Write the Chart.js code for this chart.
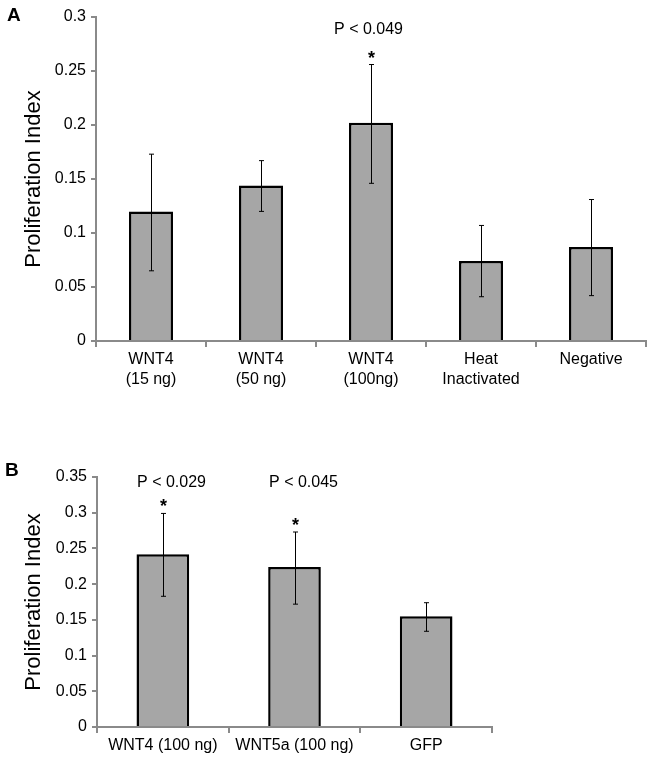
<!DOCTYPE html>
<html>
<head>
	<title>Proliferation Index</title>
	<style>
		body
		{
			margin: 0;
			background: #fff;
		}

		.panel
		{
			position: absolute;
			left: 0;
		}
	</style>
</head>
<body>
	<!-- panel A on top, panel B below -->
	<div class="panel" style="top: 0px;">
	<canvas id="chartA" width="651" height="390"></canvas>
	</div>

	<div class="panel" style="top: 460px;">
	<canvas id="chartB" width="651" height="297"></canvas>
	</div>

	<script src="https://cdn.jsdelivr.net/npm/chart.js@4.4.1/dist/chart.umd.min.js"></script>
	<script>

		// panel A data
		var labelsA = [["WNT4", "(15 ng)"], ["WNT4", "(50 ng)"], ["WNT4", "(100ng)"], ["Heat", "Inactivated"], ["Negative"]];
		var valuesA = [0.120, 0.144, 0.202, 0.074, 0.087];
		var errLowA = [0.065, 0.120, 0.146, 0.041, 0.042];
		var errHighA = [0.173, 0.167, 0.256, 0.107, 0.131];
		var pTextA = [null, null, "P < 0.049", null, null];
		var yTicksA = [0, 0.05, 0.1, 0.15, 0.2, 0.25, 0.3];

		// panel B data
		var labelsB = ["WNT4 (100 ng)", "WNT5a (100 ng)", "GFP"];
		var valuesB = [0.242, 0.224, 0.155];
		var errLowB = [0.183, 0.172, 0.134];
		var errHighB = [0.299, 0.273, 0.174];
		var pTextB = ["P < 0.029", "P < 0.045", null];
		var yTicksB = [0, 0.05, 0.1, 0.15, 0.2, 0.25, 0.3, 0.35];

		var FONT = "'Liberation Sans', Arial, sans-serif";
		var AXIS = "#8a8a8a";

		// draws error bars, asterisks, p values and the panel letter
		var extrasPlugin = {
			id: "extras",
			afterDatasetsDraw: function(chart, args, opts) {
				var ctx = chart.ctx;
				var y = chart.scales.y;
				var bars = chart.getDatasetMeta(0).data;
				ctx.save();
				ctx.strokeStyle = "#000";
				ctx.lineWidth = 1;
				for (var i = 0; i < bars.length; i++) {
					var x = Math.round(bars[i].x) + 0.5;
					var top = y.getPixelForValue(opts.high[i]);
					var bot = y.getPixelForValue(opts.low[i]);
					ctx.beginPath();
					ctx.moveTo(x, top);
					ctx.lineTo(x, bot);
					ctx.moveTo(x - 2.5, top);
					ctx.lineTo(x + 2.5, top);
					ctx.moveTo(x - 2.5, bot);
					ctx.lineTo(x + 2.5, bot);
					ctx.stroke();

					if (opts.p[i]) {
						ctx.fillStyle = "#000";
						ctx.textAlign = "center";
						ctx.font = "bold 18px " + FONT;
						ctx.textBaseline = "alphabetic";
						ctx.fillText("*", x, top - 1);
						ctx.font = "16px " + FONT;
						ctx.textBaseline = "middle";
						ctx.fillText(opts.p[i], x + opts.pShift, y.getPixelForValue(opts.pY));
					}
				}
				ctx.font = "bold 19px " + FONT;
				ctx.textAlign = "left";
				ctx.textBaseline = "middle";
				ctx.fillStyle = "#000";
				ctx.fillText(opts.letter, opts.letterX, opts.letterY);
				ctx.restore();
			}
		};

		function makeChart(id, labels, values, ticks, yMax, sizes, extras) {
			var ctx = document.getElementById(id).getContext("2d");
			return new Chart(ctx, {
				type: "bar",
				data: {
					labels: labels,
					datasets: [{
						data: values,
						backgroundColor: "#a6a6a6",
						borderColor: "#000",
						borderWidth: 2.5,
						borderSkipped: "bottom",
						categoryPercentage: 0.4,
						barPercentage: 1
					}]
				},
				options: {
					responsive: false,
					animation: false,
					layout: { padding: { top: sizes.top, right: sizes.right, left: 0, bottom: 0 } },
					plugins: {
						legend: { display: false },
						tooltip: { enabled: false },
						extras: extras
					},
					scales: {
						x: {
							grid: { drawOnChartArea: false, color: AXIS, lineWidth: 2, tickLength: 6, offset: true },
							border: { color: AXIS, width: 2 },
							ticks: { color: "#000", font: { family: FONT, size: 16, lineHeight: 1.25 }, padding: 3, maxRotation: 0, autoSkip: false },
							afterFit: function(scale) { scale.height = sizes.xh; }
						},
						y: {
							min: 0,
							max: yMax,
							grid: { drawOnChartArea: false, color: AXIS, lineWidth: 2, tickLength: 5 },
							border: { color: AXIS, width: 2 },
							ticks: {
								color: "#000",
								font: { family: FONT, size: 16 },
								padding: 5,
								callback: function(v) { return String(+v.toFixed(2)); }
							},
							afterBuildTicks: function(scale) {
								scale.ticks = ticks.map(function(v) { return { value: v }; });
							},
							title: {
								display: true,
								text: "Proliferation Index",
								color: "#000",
								font: { family: FONT, size: 22 },
								padding: { top: 21, bottom: 0 }
							},
							afterFit: function(scale) { scale.width = sizes.yw; }
						}
					}
				},
				plugins: [extrasPlugin]
			});
		}

		makeChart("chartA", labelsA, valuesA, yTicksA, 0.3,
			{ top: 17, right: 5, xh: 49, yw: 96 },
			{ low: errLowA, high: errHighA, p: pTextA, pY: 0.288, pShift: -3, letter: "A", letterX: 7, letterY: 16 });

		makeChart("chartB", labelsB, valuesB, yTicksB, 0.35,
			{ top: 17, right: 159, xh: 30, yw: 97 },
			{ low: errLowB, high: errHighB, p: pTextB, pY: 0.342, pShift: 8, letter: "B", letterX: 5, letterY: 11 });

	</script>
</body>
</html>
